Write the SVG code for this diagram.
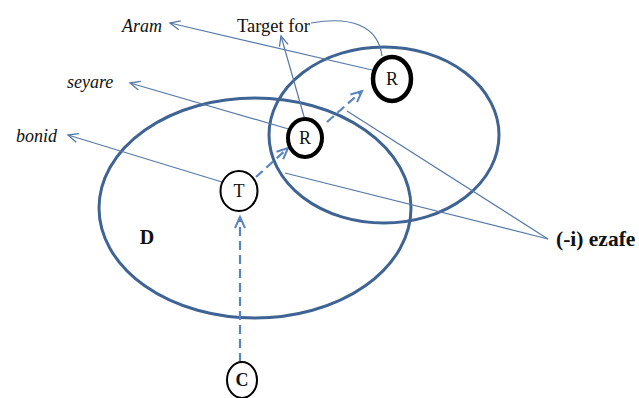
<svg xmlns="http://www.w3.org/2000/svg" width="639" height="398" viewBox="0 0 639 398">
  <style>
    .region { fill: none; stroke: #3F6494; stroke-width: 3; }
    .thin { fill: none; stroke: #5679A6; stroke-width: 1.2; }
    .dash { fill: none; stroke: #5A84BE; stroke-width: 2.2; stroke-dasharray: 9 5; }
    .node { fill: #ffffff; stroke: #000000; }
    .lbl { font-family: "Liberation Serif", "Times New Roman", serif; fill: #111111; }
    .it { font-style: italic; font-size: 18px; }
    .nl { font-size: 18px; text-anchor: middle; }
  </style>
  <defs>
    <marker id="openThin" markerUnits="userSpaceOnUse" markerWidth="14" markerHeight="12" refX="11" refY="5" orient="auto">
      <path d="M1,0.5 L11,5 L1,9.5" fill="none" stroke="#5679A6" stroke-width="1.3"/>
    </marker>
    <marker id="openDash" markerUnits="userSpaceOnUse" markerWidth="16" markerHeight="14" refX="12" refY="6" orient="auto">
      <path d="M1,1 L12,6 L1,11" fill="none" stroke="#5A84BE" stroke-width="2"/>
    </marker>
  </defs>

  <g id="region-D">
    <ellipse class="region" cx="255" cy="208" rx="156" ry="110"/>
    <text class="lbl" x="147" y="244" font-size="20" font-weight="bold" text-anchor="middle">D</text>
  </g>
  <g id="region-R">
    <ellipse class="region" cx="384" cy="135" rx="115" ry="88"/>
  </g>

  <g id="connectors">
    <line class="thin" x1="372" y1="70" x2="170" y2="23" marker-end="url(#openThin)"/>
    <line class="thin" x1="292" y1="130" x2="130" y2="83" marker-end="url(#openThin)"/>
    <line class="thin" x1="222" y1="182" x2="68" y2="135" marker-end="url(#openThin)"/>
    <line class="thin" x1="305" y1="120" x2="281" y2="36" marker-end="url(#openThin)"/>
    <path class="thin" d="M311,23 C350,16 378,25 382,56"/>
    <line class="thin" x1="347" y1="111" x2="548" y2="239"/>
    <line class="thin" x1="285" y1="173" x2="548" y2="239"/>
    <line class="dash" x1="240" y1="362" x2="240" y2="217" marker-end="url(#openDash)"/>
    <line class="dash" x1="256" y1="177" x2="288" y2="148" marker-end="url(#openDash)"/>
    <line class="dash" x1="327" y1="122" x2="362" y2="91" marker-end="url(#openDash)"/>
  </g>

  <g id="node-R-top">
    <ellipse class="node" cx="392" cy="79" rx="19" ry="22" stroke-width="4.5"/>
    <text class="lbl nl" x="392" y="85">R</text>
  </g>
  <g id="node-R-low">
    <ellipse class="node" cx="305" cy="138" rx="17" ry="19" stroke-width="4"/>
    <text class="lbl nl" x="305" y="144">R</text>
  </g>
  <g id="node-T">
    <ellipse class="node" cx="239" cy="191" rx="18.5" ry="20" stroke-width="2"/>
    <text class="lbl nl" x="239" y="197">T</text>
  </g>
  <g id="node-C">
    <ellipse class="node" cx="242" cy="380" rx="15" ry="18" stroke-width="2"/>
    <text class="lbl nl" x="242" y="386" font-weight="bold">C</text>
  </g>

  <g id="labels">
    <text class="lbl it" x="122" y="32">Aram</text>
    <text class="lbl" x="237" y="32" font-size="18.5">Target for</text>
    <text class="lbl it" x="67" y="88">seyare</text>
    <text class="lbl it" x="16" y="142">bonid</text>
    <text class="lbl" x="556" y="246" font-size="21.5" font-weight="bold">(-i) ezafe</text>
  </g>
</svg>
